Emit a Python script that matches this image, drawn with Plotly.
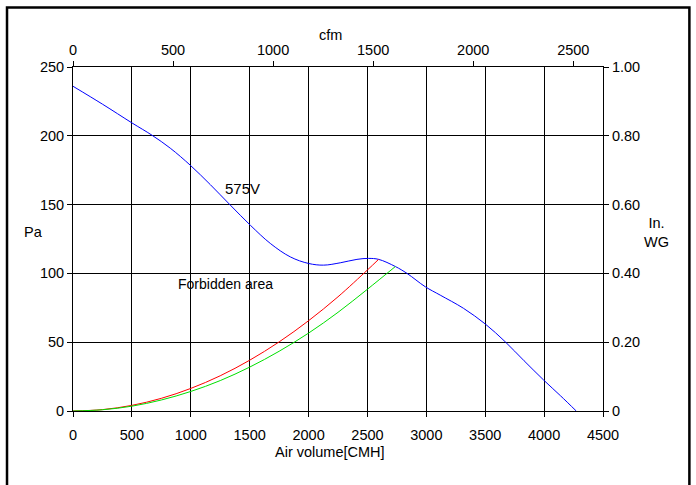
import plotly.graph_objects as go

# ---- data ----
blue_cmh = [0, 250, 500, 671, 826, 996, 1166, 1336, 1506, 1675, 1845, 2001, 2128, 2269, 2411,
            2510, 2595, 2737, 2836, 2991, 3118, 3316, 3501, 3670, 3830, 3996, 4140, 4273]
blue_pa = [236, 223, 209.4, 200.4, 191, 178.6, 164.5, 149.6, 135, 121.8, 112, 107.2, 106, 107.7, 110.2,
           110.9, 110.2, 105, 100, 90.3, 84.2, 74.6, 63.2, 50.3, 36.5, 22.5, 11, 0]

red_cmh = [0, 250, 500, 750, 1000, 1250, 1500, 1750, 2000, 2250, 2500, 2595]
red_pa = [0, 1.0, 4.1, 9.2, 16.4, 25.6, 36.9, 50.2, 65.6, 83.0, 102.5, 110.2]

green_cmh = [0, 250, 500, 750, 1000, 1250, 1500, 1750, 2000, 2250, 2500, 2737]
green_pa = [0, 0.9, 3.5, 8.0, 14.2, 22.1, 31.9, 43.4, 56.6, 71.7, 88.5, 105.0]

x_ticks = [0, 500, 1000, 1500, 2000, 2500, 3000, 3500, 4000, 4500]
y_ticks = [0, 50, 100, 150, 200, 250]
cfm_ticks = [0, 500, 1000, 1500, 2000, 2500]
inwg_ticks = [0, 0.2, 0.4, 0.6, 0.8, 1.0]
inwg_labels = ["0", "0.20", "0.40", "0.60", "0.80", "1.00"]

CMH_PER_CFM = 1.699
PA_PER_INWG = 250.0
X_MAX = 4500
Y_MAX = 250

FONT = "Liberation Sans, Arial, sans-serif"

fig = go.Figure()
fig.add_trace(go.Scatter(x=blue_cmh, y=blue_pa, mode="lines",
                         line=dict(color="#0000ff", width=1, shape="spline", smoothing=1.0),
                         hoverinfo="skip", showlegend=False))
fig.add_trace(go.Scatter(x=red_cmh, y=red_pa, mode="lines", line=dict(color="#ff0000", width=1, shape="spline"),
                         hoverinfo="skip", showlegend=False))
fig.add_trace(go.Scatter(x=green_cmh, y=green_pa, mode="lines", line=dict(color="#00e000", width=1, shape="spline"),
                         hoverinfo="skip", showlegend=False))
# same blue curve in cfm / In.WG units on the secondary axes (transparent), so those axes are drawn
fig.add_trace(go.Scatter(x=[v / CMH_PER_CFM for v in blue_cmh], y=[v / PA_PER_INWG for v in blue_pa],
                         xaxis="x2", yaxis="y2", mode="lines", line=dict(color="rgba(0,0,0,0)", width=1),
                         hoverinfo="skip", showlegend=False))

axis_common = dict(showline=True, linecolor="black", linewidth=1, ticks="outside", ticklen=5,
                   tickcolor="black", tickwidth=1, zeroline=False,
                   tickfont=dict(family=FONT, size=14.5, color="black"))

fig.update_layout(
    width=696, height=485,
    margin=dict(l=73, r=93, t=67, b=74),
    paper_bgcolor="white", plot_bgcolor="white",
    font=dict(family=FONT, size=14.5, color="black"),
    xaxis=dict(range=[0, X_MAX], tickvals=x_ticks, showgrid=True, gridcolor="black", gridwidth=1,
               ticklabelstandoff=6, **axis_common),
    yaxis=dict(range=[0, Y_MAX], tickvals=y_ticks, showgrid=True, gridcolor="black", gridwidth=1,
               **axis_common),
    xaxis2=dict(range=[0, X_MAX / CMH_PER_CFM], tickvals=cfm_ticks, overlaying="x", side="top",
                showgrid=False, **axis_common),
    yaxis2=dict(range=[0, Y_MAX / PA_PER_INWG], tickvals=inwg_ticks, ticktext=inwg_labels,
                overlaying="y", side="right", showgrid=False, **axis_common),
    showlegend=False,
)

ann = [
    dict(text="cfm", x=0.485, y=1.093, xref="paper", yref="paper", showarrow=False),
    dict(text="Pa", x=-0.074, y=0.521, xref="paper", yref="paper", showarrow=False),
    dict(text="In.<br>WG", x=1.101, y=0.518, xref="paper", yref="paper", showarrow=False),
    dict(text="Air volume[CMH]", x=0.485, y=-0.119, xref="paper", yref="paper", showarrow=False),
    dict(text="575V", x=1439, y=162, xref="x", yref="y", showarrow=False, font=dict(size=15)),
    dict(text="Forbidden area", x=1299, y=92.3, xref="x", yref="y", showarrow=False, font=dict(size=14)),
]
for a in ann:
    a.setdefault("font", dict(size=14.5))
    a["font"].update(family=FONT, color="black")
    a["xanchor"] = "center"
    a["yanchor"] = "middle"
fig.update_layout(annotations=ann)

fig.add_shape(type="rect", xref="paper", yref="paper", x0=-0.1245, x1=1.163, y0=-0.3, y1=1.173,
              line=dict(color="black", width=2.5), fillcolor="rgba(0,0,0,0)", layer="above")

fig.write_html("out.html", config={"displayModeBar": False},
               post_script="document.body.style.margin='0';document.body.style.overflow='hidden';")
